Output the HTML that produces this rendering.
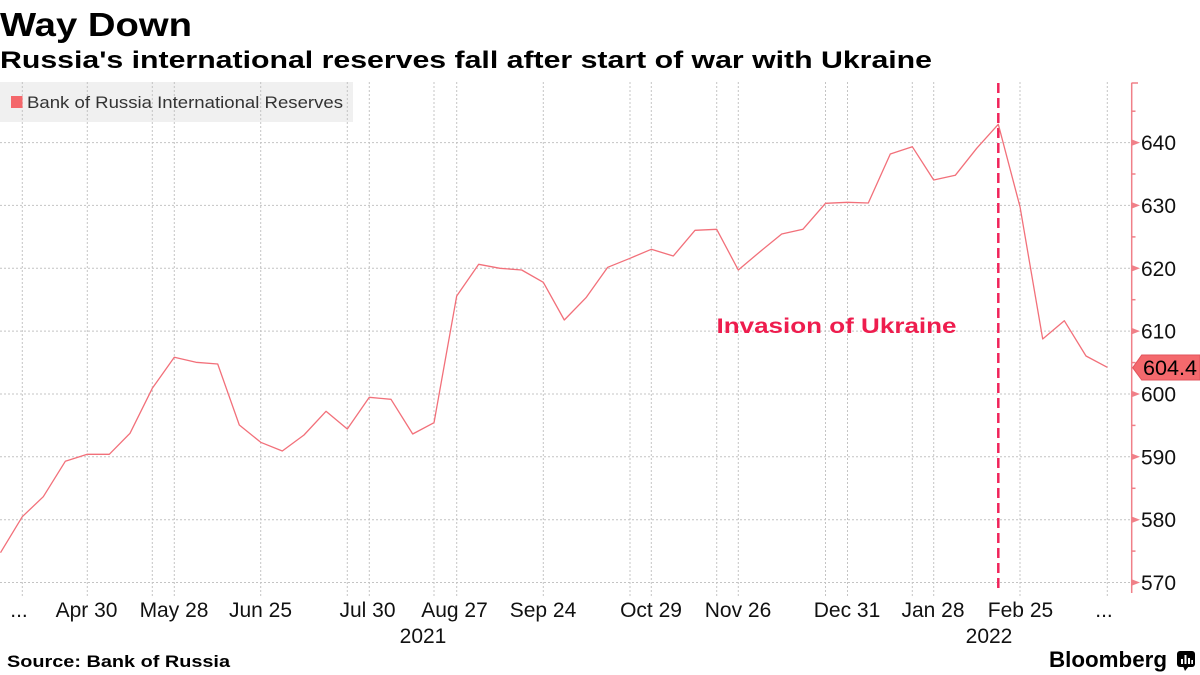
<!DOCTYPE html>
<html>
<head>
<meta charset="utf-8">
<style>
  html, body { margin:0; padding:0; background:#fff; }
  svg { display:block; }
  text { font-family: "Liberation Sans", "DejaVu Sans", sans-serif; }
</style>
</head>
<body>
<svg width="1200" height="675" viewBox="0 0 1200 675" xmlns="http://www.w3.org/2000/svg">
  <rect x="0" y="0" width="1200" height="675" fill="#ffffff"/>

  <!-- Title -->
  <text x="0" y="36" font-size="33" font-weight="bold" fill="#000" textLength="192" lengthAdjust="spacingAndGlyphs">Way Down</text>
  <text x="0" y="68" font-size="24" font-weight="bold" fill="#000" textLength="932" lengthAdjust="spacingAndGlyphs">Russia's international reserves fall after start of war with Ukraine</text>

  <!-- Legend background -->
  <rect x="0" y="82" width="353" height="40" fill="#f0f0f0"/>

  <!-- Horizontal grid -->
  <g stroke="#c4c4c4" stroke-width="1" stroke-dasharray="2 2" fill="none">
    <line x1="0" y1="142.6" x2="1131" y2="142.6"/>
    <line x1="0" y1="205.4" x2="1131" y2="205.4"/>
    <line x1="0" y1="268.3" x2="1131" y2="268.3"/>
    <line x1="0" y1="331.1" x2="1131" y2="331.1"/>
    <line x1="0" y1="394.0" x2="1131" y2="394.0"/>
    <line x1="0" y1="456.8" x2="1131" y2="456.8"/>
    <line x1="0" y1="519.7" x2="1131" y2="519.7"/>
    <line x1="0" y1="582.5" x2="1131" y2="582.5"/>
  </g>

  <!-- Vertical grid -->
  <g stroke="#c4c4c4" stroke-width="1" stroke-dasharray="2 2" fill="none">
    <line x1="22.3" y1="82" x2="22.3" y2="596"/>
    <line x1="87.3" y1="82" x2="87.3" y2="596"/>
    <line x1="152.3" y1="82" x2="152.3" y2="596"/>
    <line x1="174.3" y1="82" x2="174.3" y2="596"/>
    <line x1="260.7" y1="82" x2="260.7" y2="596"/>
    <line x1="347.3" y1="82" x2="347.3" y2="596"/>
    <line x1="369.3" y1="82" x2="369.3" y2="596"/>
    <line x1="434" y1="82" x2="434" y2="596"/>
    <line x1="456.7" y1="82" x2="456.7" y2="596"/>
    <line x1="543.3" y1="82" x2="543.3" y2="596"/>
    <line x1="630" y1="82" x2="630" y2="596"/>
    <line x1="651.3" y1="82" x2="651.3" y2="596"/>
    <line x1="716.7" y1="82" x2="716.7" y2="596"/>
    <line x1="738.3" y1="82" x2="738.3" y2="596"/>
    <line x1="825.5" y1="82" x2="825.5" y2="596"/>
    <line x1="847.5" y1="82" x2="847.5" y2="596"/>
    <line x1="912.3" y1="82" x2="912.3" y2="596"/>
    <line x1="933.7" y1="82" x2="933.7" y2="596"/>
    <line x1="1020" y1="82" x2="1020" y2="596"/>
    <line x1="1107.3" y1="82" x2="1107.3" y2="596"/>
  </g>

  <!-- Legend content -->
  <rect x="11" y="96" width="11.5" height="12" fill="#f4676b"/>
  <text x="27" y="108" font-size="17" fill="#333" textLength="316" lengthAdjust="spacingAndGlyphs">Bank of Russia International Reserves</text>

  <!-- Invasion dashed line -->
  <line x1="998.3" y1="83" x2="998.3" y2="592" stroke="#f0245a" stroke-width="2.5" stroke-dasharray="10 5"/>

  <!-- Data line -->
  <polyline fill="none" stroke="#f2707a" stroke-width="1.3" stroke-linejoin="round"
    points="0.5,552.7 22.3,516.7 43.3,496.7 65.3,461.3 87.3,454.3 109.3,454.3 130,433.3 152.3,388.3 174.3,357.3 196,362.3 217.7,364 239.3,425 260.7,442.3 282.3,451 304,435 326,411.3 347.3,429 369.3,397.3 391,399.3 412.7,434 434,422.7 456.7,296 478.7,264.3 500,268.3 521.7,270 543.3,282.3 564.3,320 586,297.7 607.7,267.3 630,258.3 651.3,249.3 673.3,256 695,230.3 716.7,229.3 738.3,270 760,251.7 781.7,234 803,229.2 825.5,203.3 847.5,202.3 868.3,203 890.3,154 912.3,146.7 933.7,180 955.3,175.3 976.7,148.3 998.3,124.3 1020,206.7 1042.7,339 1064.3,320.7 1086,356 1107.3,367.3"/>

  <!-- Annotation -->
  <text x="716.5" y="333" font-size="21" font-weight="bold" fill="#ee1d4e" textLength="240" lengthAdjust="spacingAndGlyphs">Invasion of Ukraine</text>

  <!-- Right axis -->
  <g stroke="#f08088" stroke-width="1.5" fill="none">
    <line x1="1131.7" y1="82.7" x2="1131.7" y2="593"/>
    <line x1="1131.7" y1="83" x2="1138" y2="83"/>
    <line x1="1131.7" y1="111.2" x2="1135.5" y2="111.2"/>
    <line x1="1131.7" y1="174" x2="1135.5" y2="174"/>
    <line x1="1131.7" y1="236.9" x2="1135.5" y2="236.9"/>
    <line x1="1131.7" y1="299.7" x2="1135.5" y2="299.7"/>
    <line x1="1131.7" y1="362.6" x2="1135.5" y2="362.6"/>
    <line x1="1131.7" y1="425.4" x2="1135.5" y2="425.4"/>
    <line x1="1131.7" y1="488.3" x2="1135.5" y2="488.3"/>
    <line x1="1131.7" y1="551.1" x2="1135.5" y2="551.1"/>
  </g>
  <g fill="#f08088">
    <polygon points="1131,139.1 1140,142.6 1131,146.1"/>
    <polygon points="1131,201.9 1140,205.4 1131,208.9"/>
    <polygon points="1131,264.8 1140,268.3 1131,271.8"/>
    <polygon points="1131,327.6 1140,331.1 1131,334.6"/>
    <polygon points="1131,390.5 1140,394.0 1131,397.5"/>
    <polygon points="1131,453.3 1140,456.8 1131,460.3"/>
    <polygon points="1131,516.2 1140,519.7 1131,523.2"/>
    <polygon points="1131,579.0 1140,582.5 1131,586.0"/>
  </g>
  <g font-size="21" fill="#111">
    <text x="1141" y="150">640</text>
    <text x="1141" y="213">630</text>
    <text x="1141" y="276">620</text>
    <text x="1141" y="338.5">610</text>
    <text x="1141" y="401.5">600</text>
    <text x="1141" y="464.5">590</text>
    <text x="1141" y="527">580</text>
    <text x="1141" y="590">570</text>
  </g>

  <!-- Last value label -->
  <polygon points="1132.7,367.7 1141.7,355 1200,355 1200,380 1141.7,380" fill="#f4696d" stroke="#e2545c" stroke-width="1"/>
  <text x="1143" y="375" font-size="21" fill="#000" textLength="54" lengthAdjust="spacingAndGlyphs">604.4</text>

  <!-- X axis labels -->
  <g font-size="21" fill="#111" text-anchor="middle">
    <text x="19" y="617">...</text>
    <text x="86.5" y="617">Apr 30</text>
    <text x="174" y="617">May 28</text>
    <text x="260.5" y="617">Jun 25</text>
    <text x="367.5" y="617">Jul 30</text>
    <text x="454.5" y="617">Aug 27</text>
    <text x="543" y="617">Sep 24</text>
    <text x="651" y="617">Oct 29</text>
    <text x="738" y="617">Nov 26</text>
    <text x="847" y="617">Dec 31</text>
    <text x="933" y="617">Jan 28</text>
    <text x="1020.5" y="617">Feb 25</text>
    <text x="1104" y="617">...</text>
    <text x="423" y="643">2021</text>
    <text x="989" y="643">2022</text>
  </g>

  <!-- Footer -->
  <text x="7" y="667" font-size="17" font-weight="bold" fill="#000" textLength="223" lengthAdjust="spacingAndGlyphs">Source: Bank of Russia</text>
  <text x="1049" y="667" font-size="22" font-weight="bold" fill="#000" textLength="118" lengthAdjust="spacingAndGlyphs">Bloomberg</text>
  <g>
    <rect x="1177" y="651" width="18" height="16" rx="3" fill="#000"/>
    <polygon points="1183,666 1189,666 1185,671" fill="#000"/>
    <rect x="1181" y="659" width="2" height="5" fill="#fff"/>
    <rect x="1184.5" y="655" width="2" height="9" fill="#fff"/>
    <rect x="1188" y="658" width="2" height="6" fill="#fff"/>
    <rect x="1191.3" y="660" width="1.7" height="4" fill="#fff"/>
  </g>
</svg>
</body>
</html>
